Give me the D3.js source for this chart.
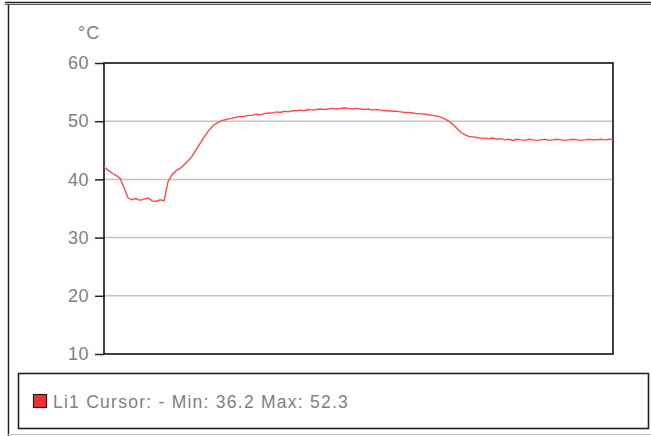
<!DOCTYPE html>
<html lang="en">
<head>
    <meta charset="UTF-8">
    <title>Temperature</title>
    <style>
        body { margin: 0; background: #fff; }
        svg { display: block; }
        text { font-family: "Liberation Sans", Arial, sans-serif; fill: #808080; }
    </style>
</head>
<body>
    <div id="chart"></div>
    <script src="https://d3js.org/d3.v7.min.js"></script>
    <script>
        // readings of Li1 in °C, evenly spaced samples
        const temps = [
            42.1, 41.6, 41.1, 40.7, 40.2, 38.6, 36.8, 36.5, 36.7, 36.4,
            36.6, 36.8, 36.3, 36.2, 36.5, 36.3, 39.7, 40.8, 41.5, 41.9,
            42.5, 43.2, 44.0, 45.1, 46.2, 47.3, 48.3, 49.1, 49.6, 50.0,
            50.2, 50.4, 50.5, 50.7, 50.8, 50.8, 51.0, 51.0, 51.2, 51.1,
            51.3, 51.4, 51.4, 51.6, 51.5, 51.7, 51.6, 51.8, 51.8, 51.9,
            51.8, 52.0, 51.9, 52.0, 52.1, 52.0, 52.1, 52.2, 52.1, 52.2,
            52.3, 52.2, 52.1, 52.2, 52.1, 52.0, 52.1, 51.9, 52.0, 51.9,
            51.8, 51.8, 51.7, 51.7, 51.6, 51.5, 51.5, 51.4, 51.3, 51.3,
            51.2, 51.1, 51.0, 50.9, 50.7, 50.4, 50.0, 49.5, 48.8, 48.1,
            47.7, 47.4, 47.3, 47.2, 47.1, 47.1, 47.0, 47.1, 46.9, 47.0,
            46.8, 46.9, 46.7, 46.9, 46.8, 46.7, 46.9, 46.8, 46.7, 46.8,
            46.9, 46.7, 46.8, 46.9, 46.8, 46.7, 46.8, 46.9, 46.8, 46.7,
            46.8, 46.9, 46.8, 46.8, 46.9, 46.8, 46.9, 46.9
        ];
        const yTicks = [10, 20, 30, 40, 50, 60];
        const unit = "°C";
        const seriesName = "Li1";
        const cursorText = "-";

        const W = 651, H = 436;
        const margin = {top: 63, right: 38, bottom: 82, left: 104};
        const width = W - margin.left - margin.right;
        const height = H - margin.top - margin.bottom;

        const svg = d3.select("#chart").append("svg")
            .attr("width", W)
            .attr("height", H);

        // outer frame
        svg.append("line").attr("x1", 5).attr("x2", W).attr("y1", 2.5).attr("y2", 2.5)
            .attr("stroke", "#222").attr("stroke-width", 1.5);
        svg.append("line").attr("x1", 5).attr("x2", W).attr("y1", 4.5).attr("y2", 4.5)
            .attr("stroke", "#555").attr("stroke-width", 1);
        svg.append("line").attr("x1", 8.5).attr("x2", 8.5).attr("y1", 5).attr("y2", H)
            .attr("stroke", "#222").attr("stroke-width", 1.5);
        svg.append("line").attr("x1", 8).attr("x2", W).attr("y1", 434.5).attr("y2", 434.5)
            .attr("stroke", "#bbb").attr("stroke-width", 1);

        const g = svg.append("g")
            .attr("transform", `translate(${margin.left},${margin.top})`);

        const x = d3.scaleLinear()
            .domain([0, temps.length - 1])
            .range([0, width]);

        const y = d3.scaleLinear()
            .domain([10, 60])
            .range([height, 0]);

        // grid
        g.append("g")
            .selectAll("line")
            .data(yTicks.filter(d => d > 10 && d < 60))
            .join("line")
            .attr("x1", 0).attr("x2", width)
            .attr("y1", d => y(d)).attr("y2", d => y(d))
            .attr("stroke", "#c4c4c4")
            .attr("stroke-width", 1.5);

        // y axis
        const yAxis = g.append("g")
            .call(d3.axisLeft(y).tickValues(yTicks).tickSize(9).tickPadding(6));
        yAxis.select(".domain").remove();
        yAxis.selectAll(".tick line").attr("stroke", "#222").attr("stroke-width", 1.5);
        yAxis.selectAll(".tick text")
            .style("font-family", "'Liberation Sans', Arial, sans-serif")
            .style("font-size", "18px")
            .style("letter-spacing", "0.5px")
            .attr("fill", "#858585");

        g.append("text")
            .attr("x", -26)
            .attr("y", -29)
            .attr("dominant-baseline", "middle")
            .style("font-size", "18px")
            .style("letter-spacing", "1px")
            .text(unit);

        // plot frame
        g.append("rect")
            .attr("width", width)
            .attr("height", height)
            .attr("fill", "none")
            .attr("stroke", "#111")
            .attr("stroke-width", 1.6);

        g.append("path")
            .datum(temps)
            .attr("fill", "none")
            .attr("stroke", "#ff4a4a")
            .attr("stroke-width", 1.4)
            .attr("d", d3.line()
                .x((d, i) => x(i))
                .y(d => y(d)));

        // legend
        const leg = svg.append("g");
        leg.append("rect")
            .attr("x", 18.5).attr("y", 373.5)
            .attr("width", 630).attr("height", 55)
            .attr("fill", "none")
            .attr("stroke", "#222")
            .attr("stroke-width", 1.6);
        leg.append("rect")
            .attr("x", 33.5).attr("y", 394.5)
            .attr("width", 13).attr("height", 13)
            .attr("fill", "#f03030")
            .attr("stroke", "#222")
            .attr("stroke-width", 1.2);
        leg.append("text")
            .attr("x", 53)
            .attr("y", 408)
            .style("font-size", "17.5px")
            .style("letter-spacing", "1.25px")
            .text(`${seriesName} Cursor: ${cursorText} Min: ${d3.min(temps)} Max: ${d3.max(temps)}`);
    </script>
</body>
</html>
